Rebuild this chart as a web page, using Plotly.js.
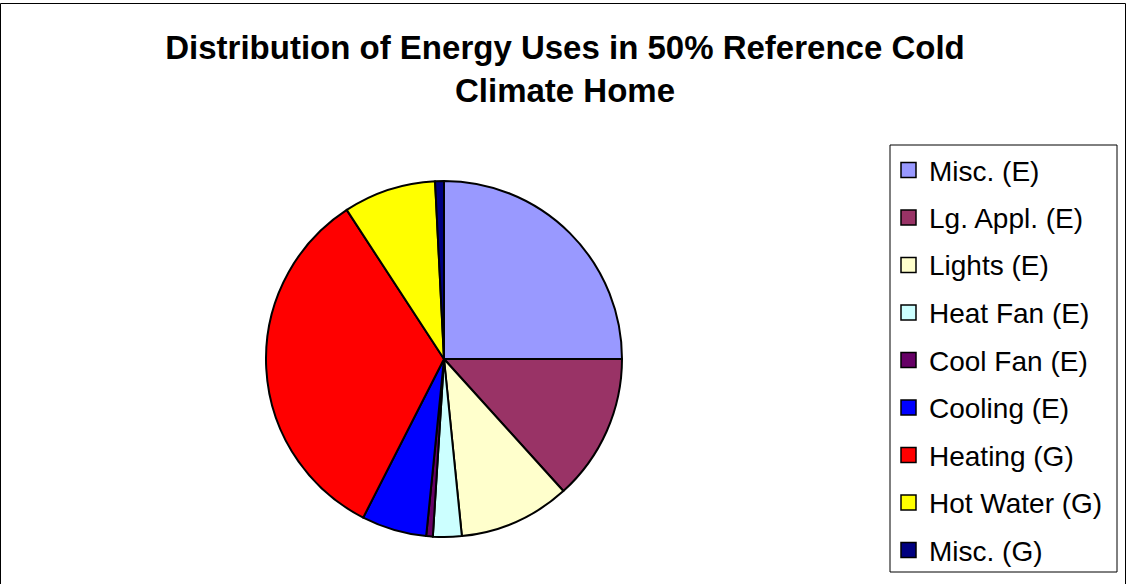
<!DOCTYPE html>
<html>
<head>
<meta charset="utf-8">
<script src="https://cdn.plot.ly/plotly-3.0.1.min.js"></script>
<style>
  html, body { margin: 0; padding: 0; background: #ffffff; }
  #chart { width: 1126px; height: 584px; }
</style>
</head>
<body>
<div id="chart"></div>
<script>
// Data (percent share of energy use)
const categories = ["Misc. (E)", "Lg. Appl. (E)", "Lights (E)", "Heat Fan (E)", "Cool Fan (E)", "Cooling (E)", "Heating (G)", "Hot Water (G)", "Misc. (G)"];
const shares = [25.0, 13.3, 10.1, 2.6, 0.6, 5.9, 33.3, 8.4, 0.8];
const sliceColors = ["#9999FF", "#993366", "#FFFFCC", "#CCFFFF", "#660066", "#0000FF", "#FF0000", "#FFFF00", "#000080"];
const titleLines = ["Distribution of Energy Uses in 50% Reference Cold", "Climate Home"];

const W = 1126, H = 584;
const px = x => x / W;
const py = y => 1 - y / H;

// Pie geometry (pixel)
const cx = 444, cy = 359, r = 178;

const trace = {
  type: "pie",
  labels: categories,
  values: shares,
  sort: false,
  direction: "clockwise",
  rotation: 0,
  textinfo: "none",
  hoverinfo: "label+percent",
  showlegend: false,
  marker: { colors: sliceColors, line: { color: "#000000", width: 2 } },
  domain: { x: [px(cx - r), px(cx + r)], y: [py(cy + r), py(cy - r)] }
};

// Manual legend (Excel-style spacing)
const legLeft = 890, legRight = 1117, legTop = 145, legBottom = 572;
const rowY0 = 170, rowStep = 47.5;
const sqX0 = 901, sqSize = 15;
const textX = 927;

const shapes = [
  // outer chart frame
  { type: "rect", xref: "paper", yref: "paper", x0: px(0.5), x1: px(1125.5), y0: py(600), y1: py(3.5),
    line: { color: "#000000", width: 1 }, fillcolor: "rgba(0,0,0,0)" },
  // legend box
  { type: "rect", xref: "paper", yref: "paper", x0: px(legLeft), x1: px(legRight), y0: py(legBottom), y1: py(legTop),
    line: { color: "#000000", width: 1 }, fillcolor: "rgba(0,0,0,0)" }
];
const annotations = [];
categories.forEach((c, i) => {
  const yc = rowY0 + i * rowStep;
  shapes.push({
    type: "rect", xref: "paper", yref: "paper",
    x0: px(sqX0), x1: px(sqX0 + sqSize), y0: py(yc + sqSize / 2), y1: py(yc - sqSize / 2),
    line: { color: "#000000", width: 1.5 }, fillcolor: sliceColors[i]
  });
  annotations.push({
    xref: "paper", yref: "paper", x: px(textX), y: py(yc + 1),
    xanchor: "left", yanchor: "middle", showarrow: false,
    text: c, font: { family: "Liberation Sans, Arial, sans-serif", size: 28, color: "#000000" }
  });
});

const layout = {
  width: W, height: H,
  margin: { l: 0, r: 0, t: 0, b: 0 },
  paper_bgcolor: "#ffffff",
  plot_bgcolor: "#ffffff",
  showlegend: false,
  title: {
    text: titleLines.map(t => "<b>" + t + "</b>").join("<br>"),
    font: { family: "Liberation Sans, Arial, sans-serif", size: 33, color: "#000000" },
    x: px(565), xanchor: "center",
    y: py(59), yanchor: "top"
  },
  shapes: shapes,
  annotations: annotations
};

Plotly.newPlot("chart", [trace], layout, { displayModeBar: false });
</script>
</body>
</html>
